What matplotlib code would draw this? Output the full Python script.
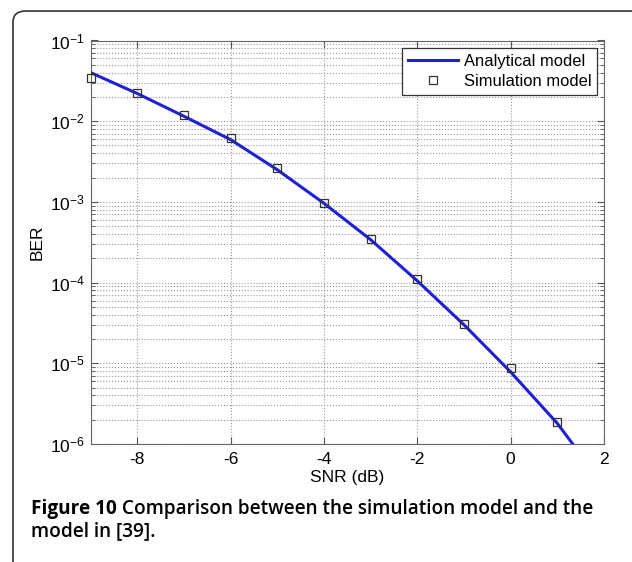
import math
import matplotlib
matplotlib.use("Agg")
import matplotlib.pyplot as plt
import matplotlib.ticker as mticker
from matplotlib.patches import FancyBboxPatch

# analytical curve
snr_line = [-9, -8, -7, -6, -5, -4, -3, -2, -1, 0, 1, 1.33]
ber_line = [4.0e-2, 2.2e-2, 1.15e-2, 5.9e-3, 2.5e-3, 9.6e-4, 3.4e-4, 1.05e-4,
            3.0e-5, 7.8e-6, 1.8e-6, 1.0e-6]

# simulation points
snr_sim = [-9, -8, -7, -6, -5, -4, -3, -2, -1, 0, 1]
ber_sim = [3.46e-2, 2.25e-2, 1.18e-2, 6.25e-3, 2.65e-3, 9.7e-4, 3.44e-4,
           1.12e-4, 3.1e-5, 8.7e-6, 1.86e-6]

xticks = [-8, -6, -4, -2, 0, 2]

plt.rcParams['font.family'] = ['Liberation Sans', 'DejaVu Sans']
plt.rcParams['mathtext.fontset'] = 'custom'
plt.rcParams['mathtext.rm'] = 'Liberation Sans'
plt.rcParams['mathtext.it'] = 'Liberation Sans'

W, H = 632, 562
fig = plt.figure(figsize=(W / 100, H / 100), dpi=100)

# frame round the figure (only top-left corner visible)
frame = FancyBboxPatch((13 / W, -0.2), 1.3, 0.2 + 1 - 11 / H,
                       boxstyle="round,pad=0,rounding_size=0.02",
                       transform=fig.transFigure, fill=False,
                       edgecolor='#333333', linewidth=1.2)
fig.patches.append(frame)

ax = fig.add_axes([90.7 / W, 1 - 444 / H, 513.3 / W, 403.5 / H])
ax.plot(snr_line, ber_line, color='#1f1fd6', lw=2.2, label='Analytical model', zorder=3)
ax.plot(snr_sim, ber_sim, ls='none', marker='s', ms=6, mfc='none', mec='#333333',
        mew=0.9, label='Simulation model', zorder=4, clip_on=False)

ax.set_yscale('log')
ax.set_xlim(-9, 2)
ax.set_ylim(1e-6, 1e-1)
ax.set_xticks(xticks)
ax.set_xticklabels([str(t) for t in xticks])
ax.yaxis.set_major_locator(mticker.LogLocator(base=10, numticks=10))
ax.yaxis.set_minor_locator(mticker.LogLocator(base=10, subs=range(2, 10), numticks=10))
ax.yaxis.set_minor_formatter(mticker.NullFormatter())
ax.yaxis.set_major_formatter(mticker.FuncFormatter(
    lambda v, p: r'$\mathregular{10^{%d}}$' % round(math.log10(v))))

ax.grid(True, which='major', axis='both', ls=':', color='#999999', lw=0.8)
ax.grid(True, which='minor', axis='y', ls=':', color='#999999', lw=0.8)
ax.tick_params(which='both', direction='in', top=True, right=True,
               color='#555555', labelsize=12.5)
ax.tick_params(axis='x', pad=6)
ax.tick_params(axis='y', pad=4)
ax.tick_params(which='major', length=5)
ax.tick_params(which='minor', length=3)
for s in ax.spines.values():
    s.set_color('#666666')

ax.set_xlabel('SNR (dB)', fontsize=12.5, labelpad=2)
ax.set_ylabel('BER', fontsize=12.5, labelpad=4)

leg = ax.legend(loc='upper right', bbox_to_anchor=(597 / W, 1 - 48 / H),
                bbox_transform=fig.transFigure, borderaxespad=0, fontsize=11.9,
                fancybox=False, edgecolor='#333333', framealpha=1,
                handlelength=3.0, handletextpad=0.35, borderpad=0.35,
                labelspacing=0.3)
leg.get_frame().set_linewidth(0.9)

cap_font = ['Open Sans', 'DejaVu Sans']
cap_size = 13.7
t1 = fig.text(31 / W, 1 - 514 / H, 'Figure 10', fontsize=cap_size, fontweight='bold',
              family=cap_font, va='baseline', ha='left')
ax.annotate(' Comparison between the simulation model and the', xy=(1, 0),
            xycoords=t1, va='bottom', ha='left', fontsize=cap_size,
            fontweight='semibold', family=cap_font, annotation_clip=False)
fig.text(31 / W, 1 - 536 / H, 'model in [39].', fontsize=cap_size, fontweight='semibold',
         family=cap_font, va='baseline', ha='left')

fig.savefig('out.png', dpi=100)
